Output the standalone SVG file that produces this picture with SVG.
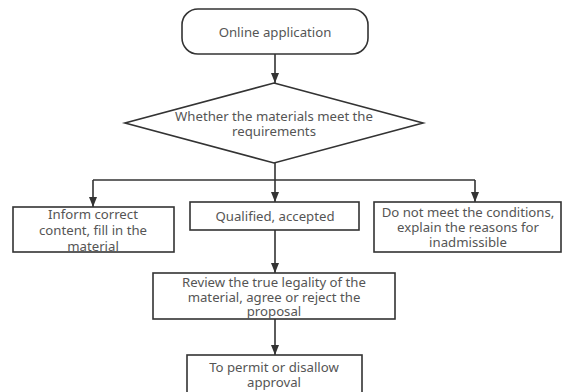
<svg xmlns="http://www.w3.org/2000/svg" width="563" height="392" viewBox="0 0 563 392">
<defs>
<marker id="ah" markerWidth="10" markerHeight="10" viewBox="0 0 10 10" refX="10" refY="5" orient="auto" markerUnits="userSpaceOnUse">
<path d="M0,1 L10,5 L0,9 Z" fill="#333"/>
</marker>
<style>
.n{fill:#fff;stroke:#333;stroke-width:1.6}
.t{font-family:"Noto Sans","Open Sans",sans-serif;font-size:13.2px;fill:#555;text-anchor:middle}
.c{fill:none;stroke:#333;stroke-width:1.6}
</style>
</defs>
<rect width="563" height="392" fill="#fff"/>
<g id="connectors">
<path class="c" d="M275,54 V83" marker-end="url(#ah)"/>
<path class="c" d="M275,163 V180"/>
<path class="c" d="M93,180 H475"/>
<path class="c" d="M93,180 V207" marker-end="url(#ah)"/>
<path class="c" d="M275,180 V202" marker-end="url(#ah)"/>
<path class="c" d="M475,180 V202" marker-end="url(#ah)"/>
<path class="c" d="M275,230 V273" marker-end="url(#ah)"/>
<path class="c" d="M275,319 V355" marker-end="url(#ah)"/>
</g>
<g id="start">
<rect class="n" x="182" y="9" width="186" height="45" rx="16"/>
<text class="t" x="275" y="37">Online application</text>
</g>
<g id="decision">
<polygon class="n" points="274,83 423,123 274,163 125,123"/>
<text class="t" x="274" y="121">Whether the materials meet the</text>
<text class="t" x="274" y="136">requirements</text>
</g>
<g id="inform">
<rect class="n" x="13" y="207" width="161" height="45"/>
<text class="t" x="93" y="219">Inform correct</text>
<text class="t" x="93" y="235">content, fill in the</text>
<text class="t" x="93" y="251">material</text>
</g>
<g id="qualified">
<rect class="n" x="190" y="202" width="169" height="28"/>
<text class="t" x="275" y="221">Qualified, accepted</text>
</g>
<g id="notmeet">
<rect class="n" x="374" y="202" width="187" height="50"/>
<text class="t" x="468" y="217">Do not meet the conditions,</text>
<text class="t" x="468" y="232">explain the reasons for</text>
<text class="t" x="468" y="247">inadmissible</text>
</g>
<g id="review">
<rect class="n" x="153" y="273" width="242" height="46"/>
<text class="t" x="274" y="287">Review the true legality of the</text>
<text class="t" x="274" y="302">material, agree or reject the</text>
<text class="t" x="274" y="316">proposal</text>
</g>
<g id="permit">
<rect class="n" x="187" y="355" width="175" height="40"/>
<text class="t" x="274" y="372">To permit or disallow</text>
<text class="t" x="274" y="387">approval</text>
</g>
</svg>
